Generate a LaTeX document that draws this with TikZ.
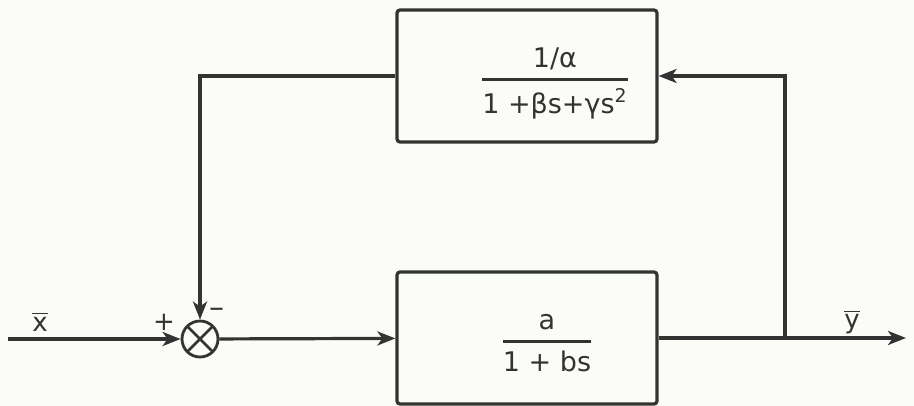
\documentclass[tikz,border=0pt]{standalone}
\usepackage{amsmath}
\usepackage{fontspec}
\setmainfont{DejaVu Sans}
\usetikzlibrary{arrows.meta,positioning,calc}
\definecolor{ink}{rgb}{0.2,0.2,0.2}
\definecolor{tipgray}{rgb}{0.45,0.45,0.45}
\definecolor{paper}{rgb}{0.985,0.985,0.97}
% fraction set with its bar a little below the box centre
\newcommand{\blockfrac}[3]{\raisebox{#1}[0pt][0pt]{$\genfrac{}{}{1.3pt}{0}{\text{#2}}{\text{#3}}$}}

\begin{document}
\begin{tikzpicture}[x=0.5pt, y=-0.5pt,
    block/.style={rectangle, draw=ink, line width=1.6pt, rounded corners=1.5pt,
                  minimum width=130pt, minimum height=66pt, inner sep=0pt,
                  font=\fontsize{13.5}{16}\selectfont, text=ink},
    sumjunc/.style={circle, draw=ink, line width=1.4pt, minimum size=18pt, inner sep=0pt,
                    path picture={\draw[ink, line width=1.4pt]
                      (path picture bounding box.north west) -- (path picture bounding box.south east)
                      (path picture bounding box.north east) -- (path picture bounding box.south west);}},
    sig/.style={-{Stealth[length=9pt, width=7pt, inset=2.5pt, fill=tipgray]}, line width=1.6pt, ink},
    lbl/.style={font=\fontsize{13}{15}\selectfont, text=ink}
]
    \fill[paper] (0,0) rectangle (914,406);

    \node[block] (fb) at (527,76) {\hspace{28pt}\blockfrac{-5.4pt}{1/α}{1 +βs+γs\textsuperscript{2}}};
    \node[block] (plant) at (527,338) {\hspace{20pt}\blockfrac{-5.4pt}{a}{1 + bs}};
    \node[sumjunc] (sum) at (200,339) {};

    \coordinate (xin) at (8,339);
    \coordinate (yout) at (906,338);
    \coordinate (tap) at (785,338);

    \draw[sig] (xin) -- (sum);
    \draw[sig] (sum) -- (plant);
    \draw[sig] (plant) -- (yout);
    \draw[sig] (tap) |- (fb.east);
    \draw[sig] (fb.west) -| (sum.north);

    \node[lbl] (xlbl) at (40,322) {$\overline{\text{x}}$};
    \node[lbl] (ylbl) at (852,322) {$\overline{\text{y}}$};
    \node[lbl] (plus) at (164,322) {+};
    \node[lbl, font=\fontsize{15}{17}\selectfont] (minus) at (217,313) {–};
\end{tikzpicture}
\end{document}
